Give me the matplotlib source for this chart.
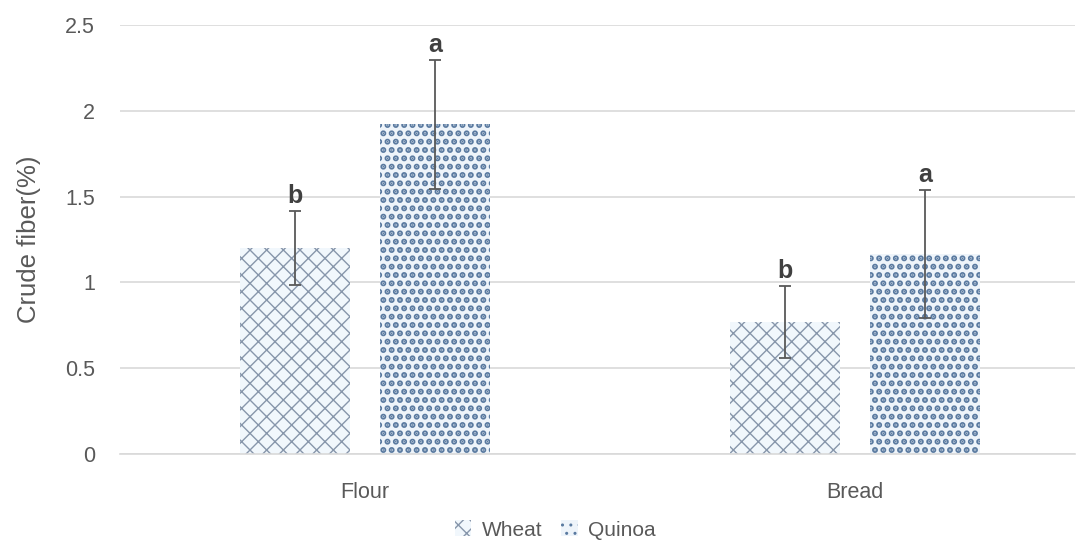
import matplotlib
matplotlib.use("Agg")
import matplotlib.pyplot as plt
import numpy as np

categories = ["Flour", "Bread"]
series = ["Wheat", "Quinoa"]
wheat = [1.20, 0.77]
quinoa = [1.92, 1.165]
wheat_err = [0.215, 0.21]
quinoa_err = [0.375, 0.375]
wheat_letters = ["b", "b"]
quinoa_letters = ["a", "a"]
yticks = [0, 0.5, 1, 1.5, 2, 2.5]

plt.rcParams['font.family'] = ['Liberation Sans', 'DejaVu Sans']

fig = plt.figure(figsize=(10.89, 5.43), dpi=100)
ax = fig.add_axes([0.110, 0.164, 0.877, 0.790])

x = np.arange(len(categories))
w = 0.2245
off = 0.1429
tc = '#595959'

plt.rcParams['hatch.linewidth'] = 1.0
b1 = ax.bar(x - off, wheat, w, color='#f1f7fc', edgecolor='#8796ab', hatch='xx', linewidth=0, zorder=2)
plt.rcParams['hatch.linewidth'] = 3.0
b2 = ax.bar(x + off, quinoa, w, color='#eef4fa', edgecolor='#5a7aa0', hatch='..', linewidth=0, zorder=2)
plt.rcParams['hatch.linewidth'] = 1.0
ax.errorbar(x - off, wheat, yerr=wheat_err, fmt='none', ecolor=tc, elinewidth=1.3, capsize=4.3, capthick=1.3, zorder=3)
ax.errorbar(x + off, quinoa, yerr=quinoa_err, fmt='none', ecolor=tc, elinewidth=1.3, capsize=4.3, capthick=1.3, zorder=3)

for i in range(len(categories)):
    ax.text(x[i] - off, wheat[i] + wheat_err[i] + 0.045, wheat_letters[i], ha='center', va='baseline',
            fontsize=18, fontweight='bold', color='#404040')
    ax.text(x[i] + off, quinoa[i] + quinoa_err[i] + 0.045, quinoa_letters[i], ha='center', va='baseline',
            fontsize=18, fontweight='bold', color='#404040')

ax.set_xlim(-0.5, 1.449)
ax.set_ylim(0, 2.5)
ax.set_yticks(yticks)
ax.set_yticklabels([f"{t:g}" for t in yticks])
ax.set_xticks(x)
ax.set_xticklabels(categories)
ax.tick_params(axis='y', length=0, labelsize=15.5, colors=tc, pad=18)
ax.tick_params(axis='x', length=0, labelsize=15.5, colors=tc, pad=20)
ax.yaxis.grid(True, color='#d9d9d9', linewidth=1.2, zorder=0)
ax.set_axisbelow(True)
for s in ['top', 'right', 'left']:
    ax.spines[s].set_visible(False)
ax.spines['bottom'].set_color('#d9d9d9')
ax.spines['bottom'].set_linewidth(1.2)
ax.set_ylabel("Crude fiber(%)", fontsize=18.5, color=tc)
ax.yaxis.set_label_coords(-0.082, 0.5)

leg = fig.legend([b1, b2], series, loc='center', bbox_to_anchor=(0.51, 0.024), ncol=2, frameon=False,
                 fontsize=15, handlelength=0.8, handleheight=0.8, handletextpad=0.5, columnspacing=0.9)
for t in leg.get_texts():
    t.set_color(tc)

fig.savefig("out.png", dpi=100)
